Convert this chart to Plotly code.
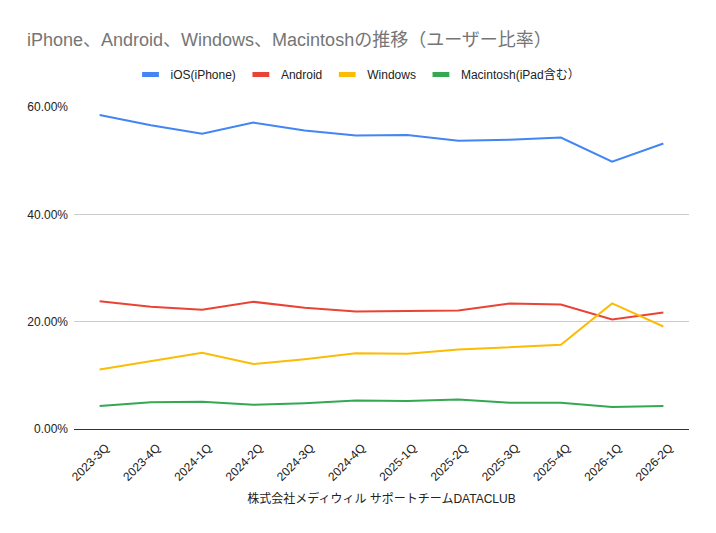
import plotly.graph_objects as go
import numpy as np

categories = ["2023-3Q", "2023-4Q", "2024-1Q", "2024-2Q", "2024-3Q", "2024-4Q",
              "2025-1Q", "2025-2Q", "2025-3Q", "2025-4Q", "2026-1Q", "2026-2Q"]
ios = [58.5, 56.6, 55.0, 57.1, 55.6, 54.7, 54.8, 53.7, 53.9, 54.3, 49.8, 53.2]
android = [23.8, 22.8, 22.2, 23.7, 22.6, 21.9, 22.0, 22.1, 23.4, 23.2, 20.4, 21.7]
windows = [11.1, 12.6, 14.2, 12.1, 13.0, 14.1, 14.0, 14.8, 15.3, 15.7, 23.4, 19.1]
mac = [4.3, 5.0, 5.1, 4.5, 4.8, 5.3, 5.2, 5.5, 4.9, 4.9, 4.1, 4.3]

series_names = ["iOS(iPhone)", "Android", "Windows", "Macintosh(iPad含む）"]
series_colors = ["#4285F4", "#EA4335", "#FBBC04", "#34A853"]
y_ticks = [0, 20, 40, 60]

font_family = "Arial, 'Liberation Sans', 'Noto Sans CJK JP', sans-serif"

fig = go.Figure()
for name, vals, col in zip(series_names, [ios, android, windows, mac], series_colors):
    fig.add_trace(go.Scatter(
        x=categories, y=np.array(vals) / 100.0, name=name, mode="lines",
        line=dict(color=col, width=2), showlegend=False,
    ))
# legend entries (Google-Sheets style short bars)
for name, col in zip(series_names, series_colors):
    fig.add_trace(go.Scatter(
        x=[None], y=[None], name=name, mode="markers",
        marker=dict(symbol="line-ew", size=12, color=col,
                    line=dict(color=col, width=5)),
        showlegend=True,
    ))

fig.update_layout(
    width=716, height=533,
    paper_bgcolor="white", plot_bgcolor="white",
    margin=dict(l=74, r=27, t=107, b=104, autoexpand=False),
    font=dict(family=font_family, color="#222222", size=12),
    title=dict(text="iPhone、Android、Windows、Macintoshの推移（ユーザー比率）",
               x=27 / 716, xref="container", xanchor="left", y=0.925, yanchor="middle",
               font=dict(size=18, color="#757575", family=font_family)),
    legend=dict(orientation="h", xref="container", x=0.5, xanchor="center",
                yref="container", y=0.86, yanchor="middle",
                font=dict(size=12, color="#222222"), itemwidth=30,
                traceorder="normal"),
    showlegend=True,
)

fig.update_xaxes(
    type="category", range=[-0.5, len(categories) - 0.5],
    showgrid=False, showline=True, linecolor="#333333",
    linewidth=1, tickangle=-45, tickfont=dict(size=12, color="#222222"),
    ticklabelshift=6, ticklabelstandoff=6,
    ticks="", title=dict(text="株式会社メディウィル サポートチームDATACLUB",
                         font=dict(size=12, color="#222222"), standoff=11),
)
fig.update_yaxes(
    range=[0, 0.6], tickvals=[v / 100 for v in y_ticks], tickformat=".2%",
    showgrid=True, gridcolor="#cccccc", gridwidth=1, zeroline=False,
    showline=False, tickfont=dict(size=12, color="#222222"), ticks="",
    ticklabelstandoff=5,
)

fig.write_html("out.html")
